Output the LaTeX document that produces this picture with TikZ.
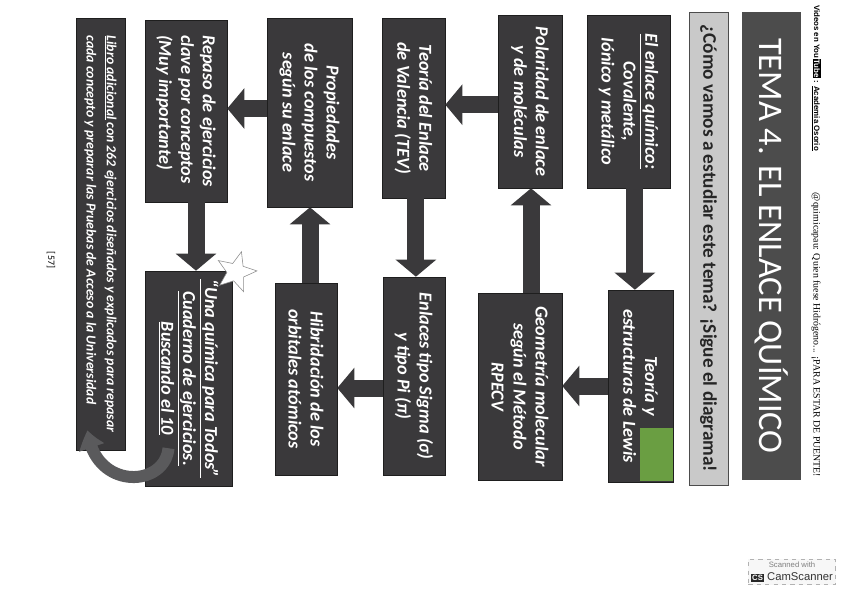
\documentclass[tikz,border=0pt]{standalone}
\usepackage{fontspec}
\setmainfont{Carlito}
\newfontfamily\headserif{Liberation Serif}
\newfontfamily\headsans{Liberation Sans}
\usetikzlibrary{
  arrows.meta,
  bending,
  shapes.geometric,
  calc
}
\definecolor{boxgray}{HTML}{3A393B}
\definecolor{boxline}{HTML}{1E1E1E}
\definecolor{bandgray}{HTML}{4C4C4C}
\definecolor{asklight}{HTML}{C9C9C9}
\definecolor{lewisgreen}{HTML}{6A9E42}
\definecolor{bentgray}{HTML}{5A5A5C}
\newcommand{\boxfont}{\fontsize{13}{15.6}\selectfont\bfseries\itshape}
\tikzset{
  pxsize/.style 2 args={minimum width=#2*0.025cm, minimum height=#1*0.025cm}
}

\begin{document}
\begin{tikzpicture}[
  x=0.025cm, y=-0.025cm,
  concept/.style={
    draw=boxline,
    fill=boxgray,
    rotate=-90,
    text=white,
    align=center,
    inner sep=0pt,
    font=\boxfont
  },
  banner/.style={
    fill=bandgray,
    rotate=-90,
    text=white,
    inner sep=0pt,
    font=\fontsize{24.5}{28}\selectfont
  },
  question/.style={
    draw=bandgray,
    fill=asklight,
    rotate=-90,
    text=black!85,
    inner sep=0pt,
    font=\fontsize{13.7}{15}\selectfont\bfseries
  },
  blockarrow/.style={draw=boxgray, line width=0.425cm, -{Triangle[width=1.0cm, length=0.43cm]}},
  bentarrow/.style={draw=bentgray, line width=0.3cm, -{Triangle[width=0.62cm, length=0.45cm, bend]}}
]

% page
\useasboundingbox (0,0) rectangle (848,599);
\fill[white] (0,0) rectangle (848,599);

% header line
\node[rotate=-90, font=\headsans\bfseries\fontsize{5.6}{6}\selectfont] (youtube) at (816,78) {Videos en You{\setlength{\fboxsep}{0.6pt}\colorbox{black}{\color{white}Tube}} : \underline{Academia Osorio}};
\node[rotate=-90, font=\headserif\fontsize{7}{8}\selectfont] (slogan) at (816,335) {@quimicapau: Quien fuese Hidrógeno... ¡PARA ESTAR DE PUENTE!};

% TITLE
\node[banner, pxsize={59}{468}] (title) at (771.5,246) {TEMA 4. EL ENLACE QUÍMICO};
\node[question, pxsize={39}{473}] (ask) at (708.5,248.5) {¿Cómo vamos a estudiar este tema? ¡Sigue el diagrama!};

% ==================== COLUMN 1 ====================
\node[concept, pxsize={83}{173}] (intro) at (628.5,101.5) {
  \underline{El enlace químico:} \\
  Covalente, \\
  Iónico y metálico
};
\node[concept, pxsize={65}{192}] (lewis) at (640.5,386) {
  Teoría y \\
  estructuras de Lewis
};
\fill[lewisgreen] (640,428) rectangle (673,481);

% ==================== COLUMN 2 ====================
\node[concept, pxsize={64}{173}] (polar) at (530,101.5) {
  Polaridad de enlace \\
  y de moléculas
};
\node[concept, pxsize={84}{187}] (geom) at (520,386.5) {
  Geometría molecular \\
  según el Método \\
  RPECV
};

% ==================== COLUMN 3 ====================
\node[concept, pxsize={63}{180}] (tev) at (413.5,108) {
  Teoría del Enlace \\
  de Valencia (TEV)
};
\node[concept, pxsize={62}{198}] (sigma) at (414,376) {
  Enlaces tipo Sigma (σ) \\
  y tipo Pi (π)
};

% ==================== COLUMN 4 ====================
\node[concept, pxsize={85}{189}] (prop) at (309.5,112.5) {
  Propiedades \\
  de los compuestos \\
  según su enlace
};
\node[concept, pxsize={62}{192}] (hib) at (306,379) {
  Hibridación de los \\
  orbitales atómicos
};

% ==================== COLUMN 5 ====================
\node[concept, pxsize={82}{182}, align=left] (repaso) at (186,111) {
  Repaso de ejercicios \\
  clave por conceptos \\
  (Muy importante)
};
\node[concept, pxsize={87}{215}] (cuaderno) at (188.5,378.5) {
  \underline{“Una química para Todos”} \\
  \underline{Cuaderno de ejercicios.} \\
  \underline{Buscando el 10}
};
\node[star, star points=5, star point ratio=2.3, minimum size=1.05cm, inner sep=0pt,
      draw=black!45, fill=white, rotate=-15] (star) at (236,272) {};

% ==================== EXTRA BOOK ====================
\node[concept, pxsize={49}{432}, align=left, font=\fontsize{9.8}{14.5}\selectfont\bfseries\itshape] (libro) at (100.5,234) {
  \underline{Libro adicional} con 262 ejercicios diseñados y explicados para repasar \\
  cada concepto y preparar las Pruebas de Acceso a la Universidad
};
\node[rotate=-90, font=\fontsize{7}{8}\selectfont] (page) at (51,260) {[57]};

% block arrows
\draw[blockarrow] ([xshift=0.16cm]intro.east) -- ([xshift=0.16cm]intro.east |- lewis.west);
\draw[blockarrow] (lewis.south) -- (lewis.south -| geom.north);
\draw[blockarrow] ([xshift=0.275cm]geom.west) -- ([xshift=0.275cm]geom.west |- polar.east);
\draw[blockarrow] ([yshift=-0.08cm]polar.south) -- ([yshift=-0.08cm]polar.south -| tev.north);
\draw[blockarrow] ([xshift=0.06cm]tev.east) -- ([xshift=0.06cm]tev.east |- sigma.west);
\draw[blockarrow] ([yshift=-0.3cm]sigma.south) -- ([yshift=-0.3cm]sigma.south -| hib.north);
\draw[blockarrow] ([xshift=0.1cm]hib.west) -- ([xshift=0.1cm]hib.west |- prop.east);
\draw[blockarrow] ([yshift=0.1cm]prop.south) -- ([yshift=0.1cm]prop.south -| repaso.north);
\draw[blockarrow] ([xshift=0.25cm]repaso.east) -- ([xshift=0.25cm]repaso.east |- cuaderno.west);

% curved arrow back to the book
\draw[bentarrow] ([xshift=-0.5cm, yshift=0.95cm]cuaderno.east)
  .. controls +(-0.1cm,-1.0cm) and +(0.15cm,-1.5cm) .. ([xshift=-0.32cm, yshift=0.5cm]libro.east);

% scanner stamp
\node[draw=black!30, dashed, fill=black!3, align=center, inner sep=2pt,
      font=\headsans\fontsize{8}{9}\selectfont] (stamp) at (792,572) {
  {\color{black!50}\fontsize{5.5}{6}\selectfont Scanned with} \\
  {\setlength{\fboxsep}{0.8pt}\colorbox{black!85}{\color{white}\bfseries\fontsize{5.5}{6}\selectfont CS}} {\color{black!80}CamScanner}
};

\end{tikzpicture}
\end{document}
